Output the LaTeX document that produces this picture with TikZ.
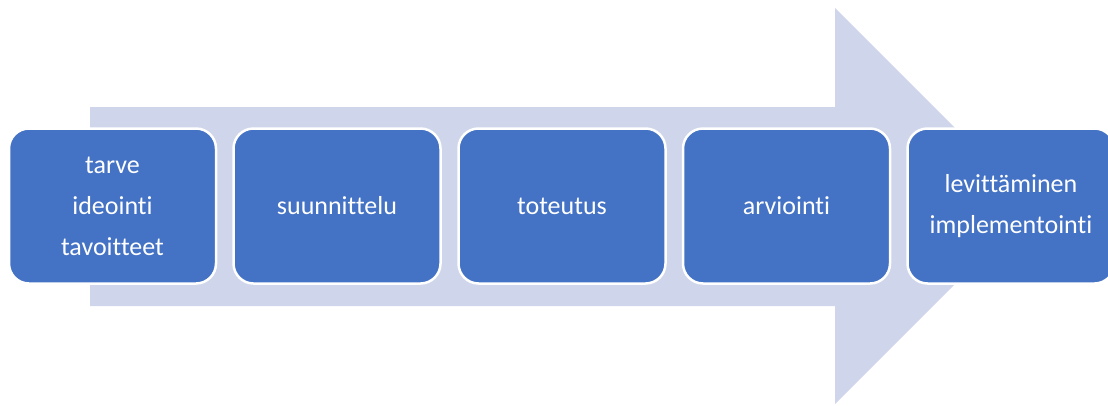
\documentclass[tikz,border=0pt]{standalone}
\usepackage{fontspec}
\setmainfont{Carlito}[RawFeature={-liga;-clig;-dlig}]
\definecolor{arrowfill}{HTML}{CFD5EA}
\definecolor{boxfill}{HTML}{4472C4}
\begin{document}
\begin{tikzpicture}[x=1pt,y=-1pt,
  stagebox/.style={draw=white, line width=2.5pt, fill=boxfill, rounded corners=20pt,
    minimum width=207pt, minimum height=155pt, inner sep=0pt, outer sep=0pt,
    text=white, align=center, font=\fontsize{26}{41}\selectfont}]
\useasboundingbox (0,0) rectangle (1108,405);
\fill[arrowfill] (90,107) -- (835,107) -- (835,8) -- (1033,206) -- (835,404) -- (835,306) -- (90,306) -- cycle;
\node[stagebox] (n1) at (112.5,206) {tarve\\ideointi\\tavoitteet};
\node[stagebox] (n2) at (337,206) {suunnittelu};
\node[stagebox] (n3) at (562,206) {toteutus};
\node[stagebox] (n4) at (786.5,206) {arviointi};
\node[stagebox] (n5) at (1011,206) {levittäminen\\implementointi};
\end{tikzpicture}
\end{document}
